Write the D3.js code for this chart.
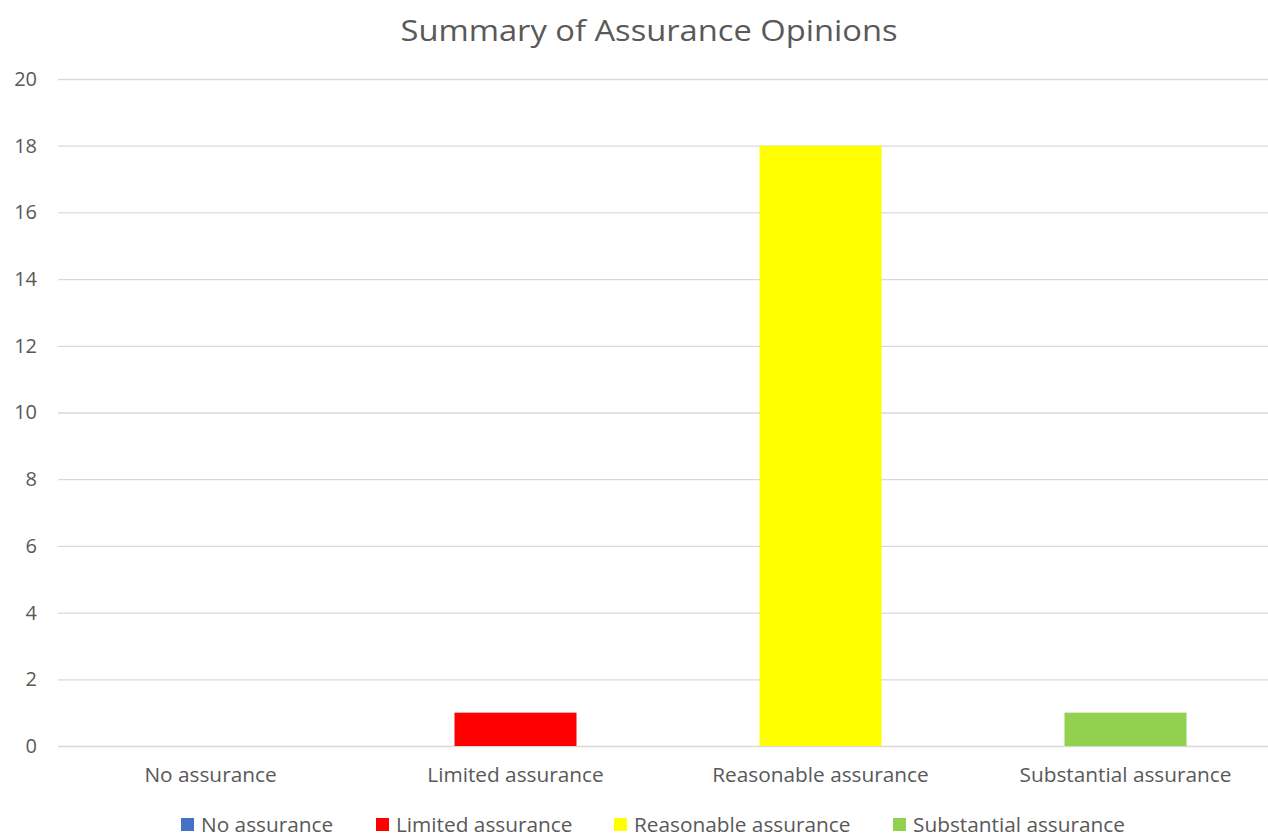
<!DOCTYPE html>
<html><head><meta charset="utf-8">
<script src="https://cdn.jsdelivr.net/npm/d3@7"></script>
<style>body{margin:0;background:#fff;overflow:hidden}svg{display:block}</style>
</head><body><svg id="c" width="1268" height="836"></svg>
<script>
const categories = ["No assurance","Limited assurance","Reasonable assurance","Substantial assurance"];
const values = [0, 1, 18, 1];
const colors = ["#4472C4","#FF0000","#FFFF00","#92D050"];
const yTicks = [0,2,4,6,8,10,12,14,16,18,20];
const title = "Summary of Assurance Opinions";

(function(){
const svg = d3.select("#c");
const font = "'Open Sans', sans-serif";
const txt = "#595959";
const pLeft = 58, pRight = 1278, pTop = 79, pBottom = 746;

const x = d3.scaleBand().domain(categories).range([pLeft, pRight]).paddingInner(0.6).paddingOuter(0.3);
const y = d3.scaleLinear().domain([0, 20]).range([pBottom, pTop]);

svg.append("text").attr("x", 649).attr("y", 41).attr("text-anchor","middle")
  .attr("font-family", font).attr("font-size", 29).attr("fill", txt).text(title)
  .attr("textLength", 497).attr("lengthAdjust","spacingAndGlyphs");

const yAxis = d3.axisLeft(y).tickValues(yTicks).tickSize(-(1268-pLeft)).tickPadding(21);
const gy = svg.append("g").attr("transform", `translate(${pLeft},0)`).call(yAxis);
gy.select(".domain").remove();
gy.selectAll(".tick line").attr("stroke", "#D9D9D9").attr("stroke-width", 1.3);
gy.selectAll(".tick text").attr("font-family", font).attr("font-size", 20).attr("fill", txt);

svg.append("g").selectAll("rect").data(values).join("rect")
  .attr("x", (d,i) => x(categories[i]))
  .attr("width", x.bandwidth())
  .attr("y", d => y(d))
  .attr("height", d => y(0) - y(d))
  .attr("fill", (d,i) => colors[i]);

const xAxis = d3.axisBottom(x).tickSize(0).tickPadding(21);
const gx = svg.append("g").attr("transform", `translate(0,${pBottom})`).call(xAxis);
gx.select(".domain").remove();
gx.selectAll(".tick text").attr("font-family", font).attr("font-size", 20.8).attr("fill", txt);

const legX = [181, 376, 614, 893];
const lg = svg.append("g").selectAll("g").data(categories).join("g")
  .attr("transform", (d,i) => `translate(${legX[i]},0)`);
lg.append("rect").attr("x",0).attr("y",818).attr("width",13).attr("height",13).attr("fill",(d,i)=>colors[i]);
lg.append("text").attr("x",20).attr("y",832).attr("font-family",font).attr("font-size",20.8).attr("fill",txt).text(d=>d);
})();
</script></body></html>
